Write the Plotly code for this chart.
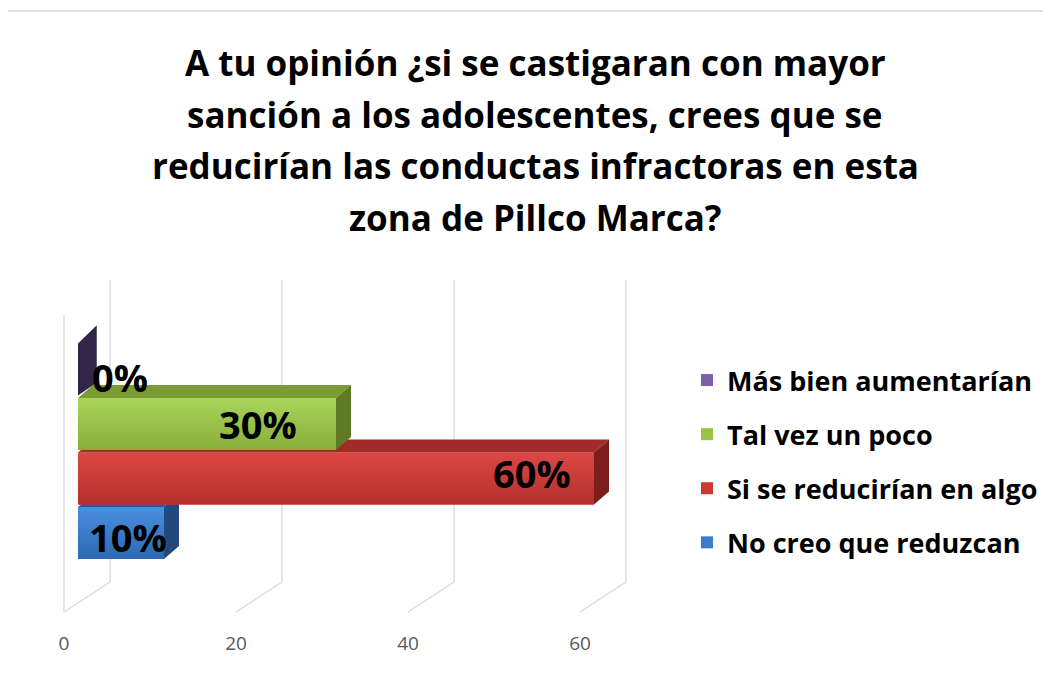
import plotly.graph_objects as go

# ---------------- data ----------------
categories = ["No creo que reduzcan", "Si se reducirían en algo", "Tal vez un poco", "Más bien aumentarían"]
values = [10, 60, 30, 0]
labels = ["10%", "60%", "30%", "0%"]
tick_vals = [0, 20, 40, 60]
tick_text = ["0", "20", "40", "60"]
title_lines = [
    "A tu opinión ¿si se castigaran con mayor",
    "sanción a los adolescentes, crees que se",
    "reducirían las conductas infractoras en esta",
    "zona de Pillco Marca?",
]

# ---------------- style ----------------
FONT = "Open Sans"
front_colors = ["#3a7cc9", "#c93a35", "#98c445", "#3b2b52"]
grad_top = ["#4a8fdf", "#dc4843", "#a9d45a", "#4a3866"]
grad_bot = ["#2e67b2", "#b3302c", "#88ae3a", "#30233f"]
top_colors = ["#2b5a98", "#a02b28", "#7b9b34", "#54417a"]
side_colors = ["#23497c", "#7c1f1c", "#5f7a25", "#33244a"]
legend_colors = ["#3a78c4", "#c0392f", "#9bc850", "#7e60a8"]
label_xshift = [-36, -62, -78, 42]
label_yshift = [-4, 6, 0, -7]

W, H = 1051, 673
OFF = 8                    # page offset of the figure (body margin)
L, Rp, T, B = 30, 680, 250, 630   # plot area in page pixels
PX = 60 / 516.0            # value units per pixel
X0 = 64                    # page pixel of value 0 at the front floor edge
xr = [(L - X0) * PX, (Rp - X0) * PX]

def px_x(p):
    return (p - L) / (Rp - L)

def px_y(p):
    return (B - p) / (B - T)

bar_base = 14 * PX
bar_h = 52
dep_x = 15 * PX
dep_y = -13
ycent = [533 - i * 54.5 for i in range(len(values))]

floor_dx = 46 * PX
floor_front_y = 612
floor_back_y = 582
wall_top_back = 280
wall_top_front = 315

fig = go.Figure()
shapes = []
grid = dict(color="#d9d9d9", width=1.3)

# walls / floor grid
shapes.append(dict(type="line", xref="x", yref="y", x0=0, x1=0,
                   y0=floor_front_y, y1=wall_top_front, line=grid, layer="below"))
for t in tick_vals:
    shapes.append(dict(type="line", xref="x", yref="y", x0=t + floor_dx, x1=t + floor_dx,
                       y0=floor_back_y, y1=wall_top_back, line=grid, layer="below"))
    shapes.append(dict(type="line", xref="x", yref="y", x0=t, x1=t + floor_dx,
                       y0=floor_front_y, y1=floor_back_y, line=grid, layer="below"))

# 3D top and side faces
for i, v in enumerate(values):
    yc = ycent[i]
    top = yc - bar_h / 2
    bot = yc + bar_h / 2
    b = bar_base
    e = b + v
    if v > 0:
        shapes.append(dict(type="path", xref="x", yref="y", layer="below",
                           path=f"M {b},{top} L {e},{top} L {e+dep_x},{top+dep_y} L {b+dep_x},{top+dep_y} Z",
                           fillcolor=top_colors[i], line=dict(width=0)))
        sx = dep_x
        sy = dep_y
    else:
        sx = dep_x * 1.25
        sy = dep_y * 1.4
    shapes.append(dict(type="path", xref="x", yref="y", layer="below",
                       path=f"M {e},{top} L {e+sx},{top+sy} L {e+sx},{bot+dep_y} L {e},{bot} Z",
                       fillcolor=side_colors[i], line=dict(width=0)))

# front faces (bars)
n = len(values)
for i, v in enumerate(values):
    fig.add_trace(go.Bar(
        y=[ycent[i]], x=[v], base=bar_base, orientation="h", width=bar_h,
        name=categories[i], legendgroup=categories[i], legendrank=n - i,
        marker=dict(color=front_colors[i] if v > 0 else legend_colors[i], line=dict(width=0)),
        hoverinfo="x+name",
    ))

# gradient overlays of front faces
for i, v in enumerate(values):
    if v <= 0:
        continue
    yc = ycent[i]
    top = yc - bar_h / 2
    bot = yc + bar_h / 2
    b = bar_base
    fig.add_trace(go.Scatter(
        x=[b, b + v, b + v, b, b], y=[top, top, bot, bot, top],
        mode="lines", line=dict(width=0), fill="toself",
        fillgradient=dict(type="vertical", colorscale=[[0, grad_bot[i]], [1, grad_top[i]]]),
        showlegend=False, hoverinfo="skip",
    ))

annotations = []
for i, v in enumerate(values):
    annotations.append(dict(
        x=bar_base + v, y=ycent[i], xref="x", yref="y", text=f"<b>{labels[i]}</b>",
        showarrow=False, xanchor="center", yanchor="middle",
        xshift=label_xshift[i], yshift=label_yshift[i],
        font=dict(family=FONT, size=38, color="#000000"),
    ))

title_y = [62, 114, 165, 217]
for line, yy in zip(title_lines, title_y):
    annotations.append(dict(
        x=px_x(535), y=px_y(yy), xref="paper", yref="paper", text=f"<b>{line}</b>",
        showarrow=False, xanchor="center", yanchor="middle",
        font=dict(family=FONT, size=35, color="#000000"),
    ))

# chart border
shapes.append(dict(type="rect", xref="paper", yref="paper",
                   x0=px_x(4), x1=px_x(1070), y0=px_y(690), y1=px_y(11),
                   line=dict(color="#d9d9d9", width=1.3), fillcolor="rgba(0,0,0,0)", layer="below"))

fig.update_layout(
    width=W, height=H,
    margin=dict(l=L - OFF, r=W - (Rp - OFF), t=T - OFF, b=H - (B - OFF), pad=0),
    paper_bgcolor="#ffffff", plot_bgcolor="#ffffff",
    barmode="overlay",
    shapes=shapes, annotations=annotations,
    showlegend=True,
    legend=dict(
        x=px_x(687), y=px_y(356), xanchor="left", yanchor="top",
        traceorder="grouped", tracegroupgap=16,
        font=dict(family=FONT, size=27, color="#000000", weight="bold"),
        itemwidth=30, bgcolor="rgba(0,0,0,0)",
    ),
    xaxis=dict(range=xr, tickvals=tick_vals, ticktext=tick_text, showgrid=False,
               zeroline=False, showline=False, ticks="",
               tickfont=dict(family=FONT, size=19, color="#595959")),
    yaxis=dict(range=[B, T], showgrid=False, zeroline=False, showline=False,
               showticklabels=False, ticks=""),
)

fig.write_html("out.html")
